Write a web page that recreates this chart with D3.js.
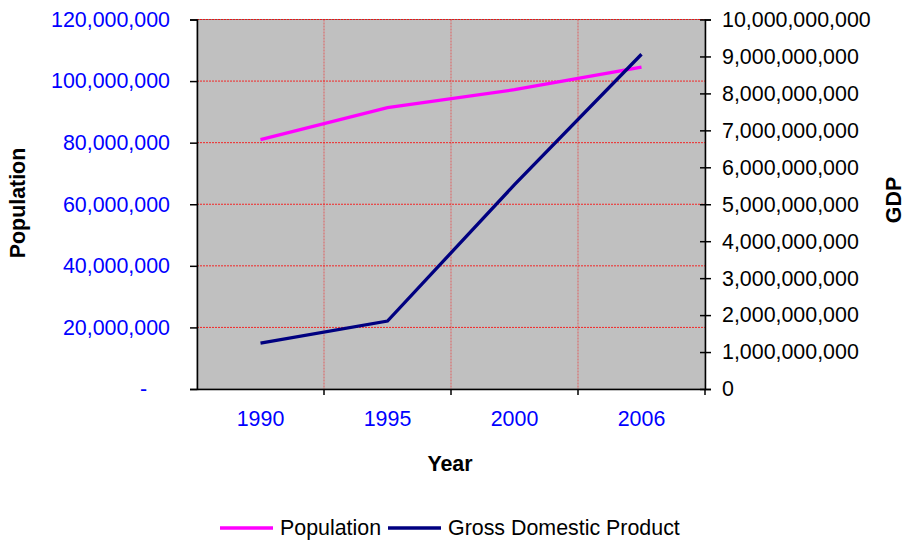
<!DOCTYPE html>
<html>
<head>
<meta charset="utf-8">
<script src="https://cdn.jsdelivr.net/npm/d3@7"></script>
<style>
  body { margin: 0; background: #ffffff; }
  text { font-family: "Liberation Sans", Arial, sans-serif; }
</style>
</head>
<body>
<div id="chart"></div>
<script>
/*
 *  DATA
 */
var years = ["1990", "1995", "2000", "2006"];
var population = [81000000, 91400000, 97200000, 104500000];
var gdp = [1240000000, 1840000000, 5530000000, 9060000000];
var pop_ticks = [0, 20000000, 40000000, 60000000, 80000000, 100000000, 120000000];
var gdp_ticks = [0, 1000000000, 2000000000, 3000000000, 4000000000, 5000000000,
                 6000000000, 7000000000, 8000000000, 9000000000, 10000000000];
var series_names = ["Population", "Gross Domestic Product"];
var series_colors = ["#ff00ff", "#000080"];

/*
 *  DECLARATION BLOCK
 */
var view_width = 907;
var view_height = 541;
var margin = {top: 19.5, bottom: 152, left: 197, right: 202};
var width = view_width - margin.left - margin.right;
var height = view_height - margin.top - margin.bottom;
var font_size = "21.4px";

var svg = d3.select('#chart')
    .append('svg')
        .attr('width', view_width)
        .attr('height', view_height);

var g = svg.append('g')
    .attr('transform', 'translate(' + margin.left + ',' + margin.top + ')');

var x_scale = d3.scaleBand()
    .domain(years)
    .range([0, width]);
var y_left = d3.scaleLinear()
    .domain([0, 120000000])
    .range([height, 0]);
var y_right = d3.scaleLinear()
    .domain([0, 10000000000])
    .range([height, 0]);

var fmt = d3.format(",");

// plot area
g.append("rect")
    .attr("x", 0)
    .attr("y", 0)
    .attr("width", width)
    .attr("height", height)
    .attr("fill", "#c0c0c0")
    .attr("stroke", "#808080")
    .attr("stroke-width", 1);

// gridlines
g.append("g")
    .selectAll("line")
    .data(pop_ticks.slice(1))
    .enter().append("line")
        .attr("x1", 0)
        .attr("x2", width)
        .attr("y1", function(d) { return y_left(d); })
        .attr("y2", function(d) { return y_left(d); })
        .attr("stroke", "#ff0000")
        .attr("stroke-width", 1)
        .attr("stroke-dasharray", "2,1")
        .attr("opacity", 0.8);

g.append("g")
    .selectAll("line")
    .data(years.slice(1))
    .enter().append("line")
        .attr("x1", function(d) { return x_scale(d); })
        .attr("x2", function(d) { return x_scale(d); })
        .attr("y1", 0)
        .attr("y2", height)
        .attr("stroke", "#ff0000")
        .attr("stroke-width", 1)
        .attr("stroke-dasharray", "2,1")
        .attr("opacity", 0.5);

// axes
var left_axis = g.append("g")
    .attr("class", "y axis")
    .call(d3.axisLeft(y_left)
        .tickValues(pop_ticks)
        .tickSize(7)
        .tickPadding(20)
        .tickFormat(function(d) { return d === 0 ? "-" : fmt(d); }));
left_axis.selectAll("text")
    .attr("fill", "#0000ff")
    .style("font-size", font_size)
    .filter(function(d) { return d === 0; })
        .attr("x", -50);

var right_axis = g.append("g")
    .attr("class", "y axis")
    .attr("transform", "translate(" + width + ",0)")
    .call(d3.axisRight(y_right)
        .tickValues(gdp_ticks)
        .tickSize(6)
        .tickPadding(11)
        .tickFormat(fmt));
right_axis.selectAll(".tick line").attr("x1", -5);
right_axis.selectAll("text")
    .attr("fill", "#000000")
    .style("font-size", font_size);

var bottom_axis = g.append("g")
    .attr("class", "x axis")
    .attr("transform", "translate(0," + height + ")")
    .call(d3.axisBottom(x_scale).tickSize(0).tickPadding(22));
bottom_axis.selectAll("text")
    .attr("fill", "#0000ff")
    .style("font-size", font_size);
// category separators as tick marks
bottom_axis.selectAll(".sep")
    .data(years.slice(1).concat(["end"]))
    .enter().append("line")
        .attr("class", "sep")
        .attr("x1", function(d) { return d === "end" ? width : x_scale(d); })
        .attr("x2", function(d) { return d === "end" ? width : x_scale(d); })
        .attr("y1", 0)
        .attr("y2", 6)
        .attr("stroke", "#000");

g.selectAll(".axis path").attr("stroke", "#000").attr("stroke-width", 1.5);
g.selectAll(".axis line").attr("stroke", "#000").attr("stroke-width", 1.5);

// lines
var pop_line = d3.line()
    .x(function(d, i) { return x_scale(years[i]) + x_scale.bandwidth() / 2; })
    .y(function(d) { return y_left(d); });
var gdp_line = d3.line()
    .x(function(d, i) { return x_scale(years[i]) + x_scale.bandwidth() / 2; })
    .y(function(d) { return y_right(d); });

g.append("path")
    .datum(population)
    .attr("fill", "none")
    .attr("stroke", series_colors[0])
    .attr("stroke-width", 3.3)
    .attr("d", pop_line);

g.append("path")
    .datum(gdp)
    .attr("fill", "none")
    .attr("stroke", series_colors[1])
    .attr("stroke-width", 3.3)
    .attr("d", gdp_line);

// axis titles
svg.append("text")
    .attr("transform", "translate(25,203)rotate(-90)")
    .attr("text-anchor", "middle")
    .style("font-size", "21.4px")
    .style("font-weight", "bold")
    .text("Population");

svg.append("text")
    .attr("transform", "translate(901,200)rotate(-90)")
    .attr("text-anchor", "middle")
    .style("font-size", "21.4px")
    .style("font-weight", "bold")
    .text("GDP");

svg.append("text")
    .attr("x", 450)
    .attr("y", 471)
    .attr("text-anchor", "middle")
    .style("font-size", "21.4px")
    .style("font-weight", "bold")
    .text("Year");

// legend
var legend_x = [220, 388];
var legend = svg.append("g");
legend.selectAll("line")
    .data(series_names)
    .enter().append("line")
        .attr("x1", function(d, i) { return legend_x[i]; })
        .attr("x2", function(d, i) { return legend_x[i] + 53; })
        .attr("y1", 528)
        .attr("y2", 528)
        .attr("stroke", function(d, i) { return series_colors[i]; })
        .attr("stroke-width", 3.3);
legend.selectAll("text")
    .data(series_names)
    .enter().append("text")
        .attr("x", function(d, i) { return legend_x[i] + 60; })
        .attr("y", 528)
        .attr("dy", "0.35em")
        .style("font-size", font_size)
        .text(function(d) { return d; });
</script>
</body>
</html>
